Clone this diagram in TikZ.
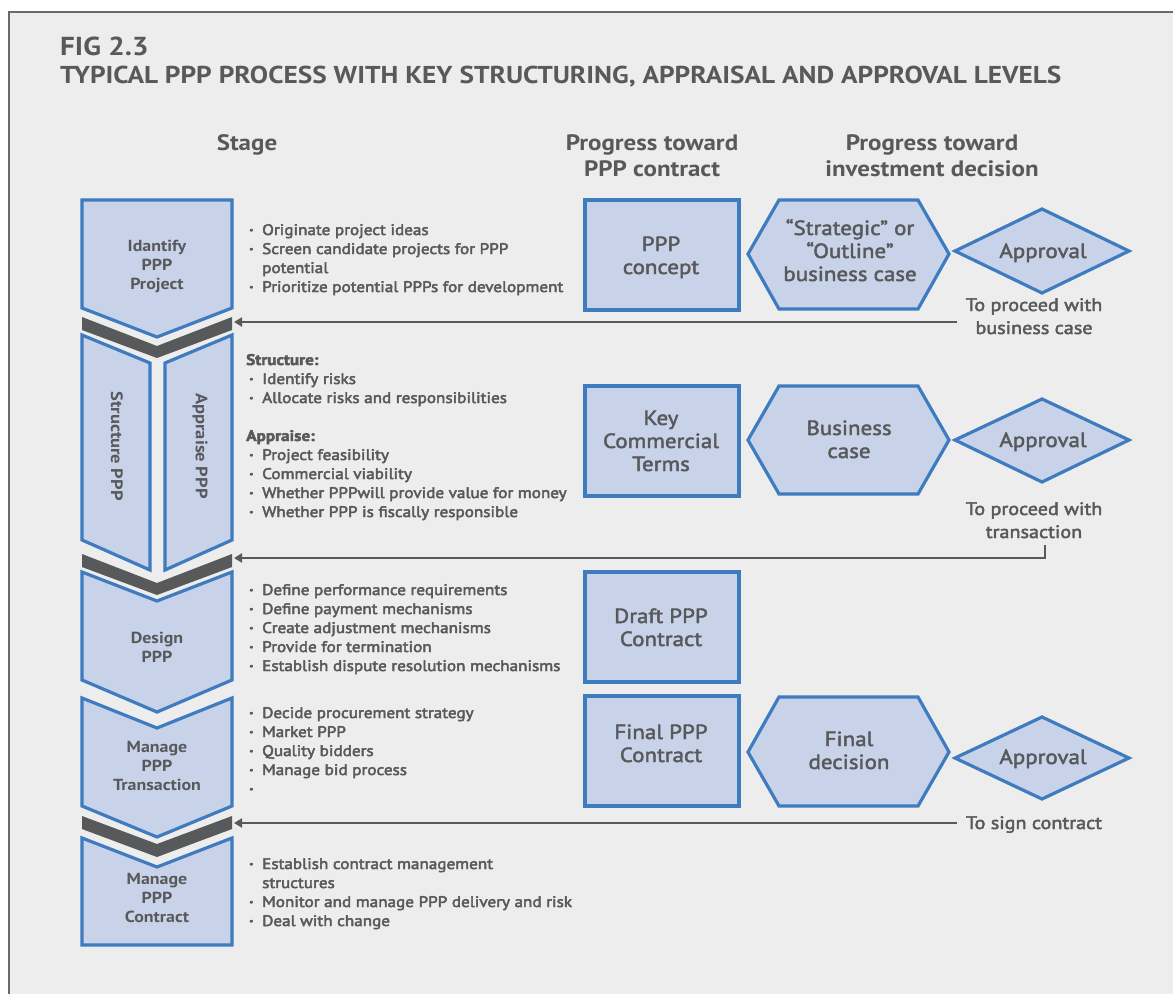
\documentclass[tikz,border=0pt]{standalone}
\usepackage{fontspec}
\setmainfont{PT Sans}[FakeStretch=1.12]
\usetikzlibrary{arrows.meta}
\definecolor{bgc}{HTML}{EDEDED}
\definecolor{txt}{HTML}{58595B}
\definecolor{bstroke}{HTML}{3F7BBF}
\definecolor{bfill}{HTML}{C8D3EA}
\definecolor{framec}{HTML}{6A6A6A}
\newcommand\medfont{\special{pdf:code 2 Tr 0.45 w}}
\newcommand\bl[1]{\makebox[16pt][l]{\hspace{3pt}\textbf{\textperiodcentered}}#1}
\newcommand\ltab[1]{\begin{tabular}[t]{@{}l@{}}#1\end{tabular}}
\newcommand\ctab[1]{\begin{tabular}[t]{@{}c@{}}#1\end{tabular}}
\begin{document}
\begin{tikzpicture}[x=1pt,y=-1pt,
  every node/.style={inner sep=0pt, text=txt},
  stagebox/.style={draw=bstroke, fill=bfill, line width=3.2pt, line join=miter},
  band/.style={fill=txt, draw=none},
  conn/.style={draw=txt, line width=2.4pt, -{Triangle[length=8pt,width=9pt]}},
  bul/.style={font=\fontsize{15.3}{19}\selectfont, anchor=base west},
  stagelbl/.style={font=\bfseries\fontsize{16}{19}\selectfont, anchor=base},
  boxlbl/.style={font=\fontsize{20.5}{23}\selectfont, anchor=base},
  hdr/.style={font=\bfseries\fontsize{22.3}{26}\selectfont, anchor=base},
  note/.style={font=\fontsize{18}{23}\selectfont, anchor=base}]
\useasboundingbox (0,0) rectangle (1173,994);
\fill[white] (0,0) rectangle (1173,994);
\fill[bgc] (9,12) rectangle (1173,994);
\draw[framec, line width=2pt] (9,994) -- (9,12) -- (1173,12);

% titles
\node[font=\bfseries\fontsize{26}{28}\selectfont, anchor=base west] (fig) at (60,55) {FIG 2.3};
\node[font=\bfseries\fontsize{24.4}{28}\selectfont, anchor=base west] (title) at (60,83) {TYPICAL PPP PROCESS WITH KEY STRUCTURING, APPRAISAL AND APPROVAL LEVELS};

% headers
\node[hdr] (hstage) at (247,150) {Stage};
\node[hdr] (hcontract) at (652,150) {\ctab{Progress toward\\PPP contract}};
\node[hdr] (hinvest) at (932,150) {\ctab{Progress toward\\investment decision}};

% stage chevrons
\draw[stagebox] (82,200) -- (232,200) -- (232,308) -- (157,337) -- (82,308) -- cycle;
\fill[band] (82,317) -- (157,346) -- (232,317) -- (232,330) -- (157,358) -- (82,330) -- cycle;
\draw[stagebox] (82,335) -- (150,363) -- (150,570) -- (82,540) -- cycle;
\draw[stagebox] (165,363) -- (232,335) -- (232,540) -- (165,570) -- cycle;
\fill[band] (82,554) -- (157,583) -- (232,554) -- (232,567) -- (157,595) -- (82,567) -- cycle;
\draw[stagebox] (82,572) -- (157,601) -- (232,572) -- (232,680) -- (157,712) -- (82,680) -- cycle;
\draw[stagebox] (82,698) -- (157,728) -- (232,698) -- (232,806) -- (157,837) -- (82,806) -- cycle;
\fill[band] (82,816) -- (157,844) -- (232,816) -- (232,829) -- (157,857) -- (82,829) -- cycle;
\draw[stagebox] (82,838) -- (157,867) -- (232,838) -- (232,945) -- (82,945) -- cycle;

\node[stagelbl] (s1) at (157,251) {\ctab{Idantify\\PPP\\Project}};
\node[font=\bfseries\fontsize{16.5}{19}\selectfont, rotate=-90] (s2a) at (117,446) {Structure PPP};
\node[font=\bfseries\fontsize{16.5}{19}\selectfont, rotate=-90] (s2b) at (200,446) {Appraise PPP};
\node[stagelbl] (s3) at (157,643) {\ctab{Design\\PPP}};
\node[stagelbl] (s4) at (157,752) {\ctab{Manage\\PPP\\Transaction}};
\node[stagelbl] (s5) at (157,884) {\ctab{Manage\\PPP\\Contract}};

% bullet texts
\node[bul] (b1) at (246,235) {\medfont\ltab{\bl{Originate project ideas}\\
\bl{Screen candidate projects for PPP}\\
\hspace*{16pt}potential\\
\bl{Prioritize potential PPPs for development}}};
\node[bul] (b2) at (246,365) {\medfont\ltab{\textbf{Structure:}\\
\bl{Identify risks}\\
\bl{Allocate risks and responsibilities}\\
\\
\textbf{Appraise:}\\
\bl{Project feasibility}\\
\bl{Commercial viability}\\
\bl{Whether PPPwill provide value for money}\\
\bl{Whether PPP is fiscally responsible}}};
\node[bul] (b3) at (246,595) {\medfont\ltab{\bl{Define performance requirements}\\
\bl{Define payment mechanisms}\\
\bl{Create adjustment mechanisms}\\
\bl{Provide for termination}\\
\bl{Establish dispute resolution mechanisms}}};
\node[bul] (b4) at (246,718) {\medfont\ltab{\bl{Decide procurement strategy}\\
\bl{Market PPP}\\
\bl{Quality bidders}\\
\bl{Manage bid process}\\
\bl{}}};
\node[bul] (b5) at (246,869) {\medfont\ltab{\bl{Establish contract management}\\
\hspace*{16pt}structures\\
\bl{Monitor and manage PPP delivery and risk}\\
\bl{Deal with change}}};

% contract column boxes
\draw[stagebox] (585,200) rectangle (739,310);
\draw[stagebox] (585,386) rectangle (739,496);
\draw[stagebox] (585,572) rectangle (739,682);
\draw[stagebox] (585,696) rectangle (739,806);
\node[boxlbl] (c1) at (661,251) {\medfont\ctab{PPP\\concept}};
\node[boxlbl] (c2) at (661,425) {\medfont\ctab{Key\\Commercial\\Terms}};
\node[boxlbl] (c3) at (661,623) {\medfont\ctab{Draft PPP\\Contract}};
\node[boxlbl] (c4) at (661,739) {\medfont\ctab{Final PPP\\Contract}};

% hexagons
\draw[stagebox] (748,254) -- (779,200) -- (918,200) -- (949,254) -- (918,309) -- (779,309) -- cycle;
\draw[stagebox] (748,440) -- (779,386) -- (918,386) -- (949,440) -- (918,494) -- (779,494) -- cycle;
\draw[stagebox] (748,752) -- (779,697) -- (918,697) -- (949,752) -- (918,806) -- (779,806) -- cycle;
\node[boxlbl] (h1) at (850,235) {\medfont\ctab{“Strategic” or\\“Outline”\\business case}};
\node[boxlbl] (h2) at (849,435) {\medfont\ctab{Business\\case}};
\node[boxlbl] (h3) at (849,746) {\medfont\ctab{Final\\decision}};

% diamonds
\draw[stagebox] (955,251) -- (1042,209) -- (1129,251) -- (1042,293) -- cycle;
\draw[stagebox] (955,440) -- (1042,399) -- (1129,440) -- (1042,482) -- cycle;
\draw[stagebox] (955,758) -- (1042,717) -- (1129,758) -- (1042,799) -- cycle;
\node[boxlbl] (d1) at (1043,258) {\medfont Approval};
\node[boxlbl] (d2) at (1043,447) {\medfont Approval};
\node[boxlbl] (d3) at (1043,764) {\medfont Approval};

% notes
\node[note] (n1) at (1034,311) {\medfont\ctab{To proceed with\\business case}};
\node[note] (n2) at (1034,515) {\medfont\ctab{To proceed with\\transaction}};
\node[note] (n3) at (1034,829) {\medfont To sign contract};

% reset text render mode
\node (reset) at (0,0) {\special{pdf:code 0 Tr}};

% connectors
\coordinate (a1s) at (957,322);
\coordinate (a1e) at (234,322);
\coordinate (a2s) at (1045,545);
\coordinate (a2m) at (1045,558);
\coordinate (a2e) at (234,558);
\coordinate (a3s) at (957,823);
\coordinate (a3e) at (234,823);
\draw[conn] (a1s) -- (a1e);
\draw[conn] (a2s) -- (a2m) -- (a2e);
\draw[conn] (a3s) -- (a3e);
\end{tikzpicture}
\end{document}
